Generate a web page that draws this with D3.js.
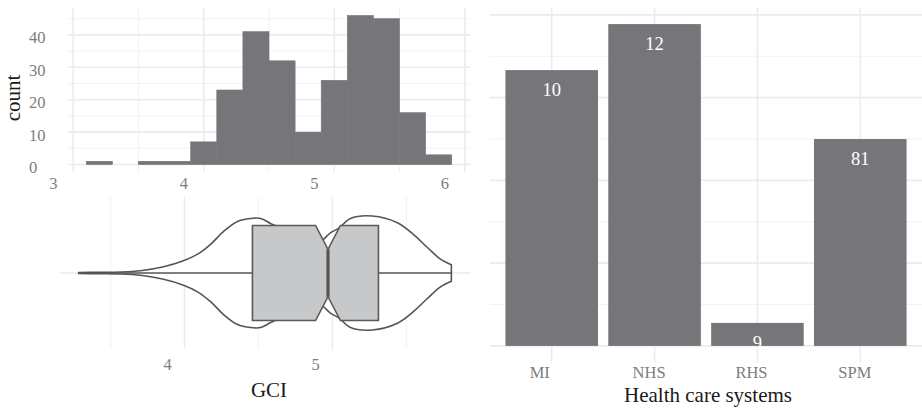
<!DOCTYPE html>
<html><head><meta charset="utf-8">
<script src="https://cdn.jsdelivr.net/npm/d3@7"></script>
<style>
body{margin:0;background:#fff;}
svg{display:block;font-family:"Liberation Serif","Times New Roman",serif;}
</style></head>
<body><svg id="c" width="922" height="408"></svg>
<script>
// ---- data ----
const histBinStart = [3.1,3.3,3.5,3.7,3.9,4.1,4.3,4.5,4.7,4.9,5.1,5.3,5.5,5.7];
const histCounts   = [1,0,1,1,7,23,41,32,10,26,46,45,16,3];
const histBinWidth = 0.2;
const histXTicks = [3,4,5,6];
const histYTicks = [0,10,20,30,40];

const violinX       = [3.284,3.432,3.568,3.703,3.858,3.993,4.088,4.176,4.264,4.358,4.446,4.514,4.581,4.649,4.750,4.851,4.905,4.939,4.986,5.041,5.122,5.270,5.439,5.547,5.642,5.730,5.804];
const violinDensity = [0.009,0.012,0.017,0.040,0.110,0.214,0.330,0.504,0.730,0.904,0.957,0.957,0.870,0.783,0.626,0.539,0.539,0.591,0.704,0.783,0.957,1.000,0.882,0.678,0.447,0.243,0.144];
const boxStats = {whiskerLow:3.284, q1:4.459, median:4.97, q3:5.311, whiskerHigh:5.804, notchLow:4.886, notchHigh:5.054};
const violinXTicks = [4,5];

const categories = ["MI","NHS","RHS","SPM"];
const percents   = [33.33,38.89,2.78,25.0];
const barLabels  = ["10","12","9","81"];
const barYTicks  = [0,10,20,30,40];

// ---- style ----
const barFill = "#76767a";
const gridMajor = "#ebebeb", gridMinor = "#f2f2f2";
const tickColor = "#7d7d7d", titleColor = "#1a1a1a";
const tickSize = 16.5, titleSize = 21;
const svg = d3.select("#c");

function vGrid(g, scale, vals, y0, y1, major){
  g.selectAll(null).data(vals).enter().append("line")
    .attr("x1", d=>scale(d)).attr("x2", d=>scale(d)).attr("y1", y0).attr("y2", y1)
    .attr("stroke", major?gridMajor:gridMinor).attr("stroke-width", major?1.6:1);
}
function hGrid(g, scale, vals, x0, x1, major){
  g.selectAll(null).data(vals).enter().append("line")
    .attr("y1", d=>scale(d)).attr("y2", d=>scale(d)).attr("x1", x0).attr("x2", x1)
    .attr("stroke", major?gridMajor:gridMinor).attr("stroke-width", major?1.6:1);
}

// ---- Histogram ----
{
  const L=68,R=470,T=8,B=172;
  const xmin = d3.min(histBinStart), xmax = d3.max(histBinStart)+histBinWidth;
  const xpad=(xmax-xmin)*0.05;
  const x = d3.scaleLinear().domain([xmin-xpad, xmax+xpad]).range([L,R]);
  const ymax = d3.max(histCounts);
  const y = d3.scaleLinear().domain([-ymax*0.05, ymax*1.05]).range([B,T]);
  const g = svg.append("g");
  hGrid(g, y, [5,15,25,35,45], L, R, false);
  vGrid(g, x, [3.5,4.5,5.5], T, B, false);
  hGrid(g, y, histYTicks, L, R, true);
  vGrid(g, x, histXTicks, T, B, true);
  g.selectAll("rect").data(histCounts).enter().append("rect")
    .attr("x",(d,i)=>x(histBinStart[i])).attr("width",(d,i)=>x(histBinStart[i]+histBinWidth)-x(histBinStart[i]))
    .attr("y",d=>y(d)).attr("height",d=>y(0)-y(d)).attr("fill",barFill)
    .attr("stroke",d=>d>0?barFill:"none").attr("stroke-width",0.6);
  g.selectAll(null).data(histXTicks).enter().append("text")
    .attr("x",d=>x(d)-24).attr("y",189).attr("font-size",tickSize).attr("fill",tickColor).text(d=>d);
  g.selectAll(null).data(histYTicks).enter().append("text")
    .attr("x",29).attr("y",d=>y(d)+8.5).attr("font-size",tickSize).attr("fill",tickColor).text(d=>d);
  g.append("text").attr("transform","translate(20,98) rotate(-90)").attr("text-anchor","middle")
    .attr("font-size",titleSize).attr("fill",titleColor).text("count");
}

// ---- Violin + boxplot ----
{
  const L=60,R=470,T=197,B=349;
  const vmin=d3.min(violinX), vmax=d3.max(violinX), pad=(vmax-vmin)*0.05;
  const x = d3.scaleLinear().domain([vmin-pad, vmax+pad]).range([L,R]);
  const y = d3.scaleLinear().domain([0.4,1.6]).range([B,T]);
  const g = svg.append("g");
  vGrid(g, x, [3.5,4.5,5.5], T, B, false);
  vGrid(g, x, violinXTicks, T, B, true);
  hGrid(g, y, [1], L, R, true);
  const pts = violinX.map((v,i)=>[v,violinDensity[i]]);
  const upper = pts.map(d=>[x(d[0]), y(1+0.45*d[1])]);
  const lower = pts.map(d=>[x(d[0]), y(1-0.45*d[1])]).reverse();
  const line = d3.line().curve(d3.curveCatmullRom.alpha(0.5));
  g.append("path").attr("d", line(upper)+"L"+line(lower).slice(1)+"Z")
    .attr("fill","#fff").attr("stroke","#555").attr("stroke-width",1.6).attr("stroke-linejoin","round");
  g.append("line").attr("x1",x(boxStats.whiskerLow)).attr("x2",x(boxStats.q1)).attr("y1",y(1)).attr("y2",y(1))
    .attr("stroke","#555").attr("stroke-width",1.6);
  g.append("line").attr("x1",x(boxStats.q3)).attr("x2",x(boxStats.whiskerHigh)).attr("y1",y(1)).attr("y2",y(1))
    .attr("stroke","#555").attr("stroke-width",1.6);
  const bw=0.375, nw=bw*0.5;
  const s=boxStats;
  const poly=[[s.q1,1+bw],[s.notchLow,1+bw],[s.median,1+nw],[s.notchHigh,1+bw],[s.q3,1+bw],
              [s.q3,1-bw],[s.notchHigh,1-bw],[s.median,1-nw],[s.notchLow,1-bw],[s.q1,1-bw]];
  g.append("path").attr("d", "M"+poly.map(p=>x(p[0])+","+y(p[1])).join("L")+"Z")
    .attr("fill","#c7c8ca").attr("stroke","#5a5a5a").attr("stroke-width",1.6).attr("stroke-linejoin","miter");
  g.append("line").attr("x1",x(s.median)).attr("x2",x(s.median)).attr("y1",y(1+nw)).attr("y2",y(1-nw))
    .attr("stroke","#555").attr("stroke-width",3.2);
  g.selectAll(null).data(violinXTicks).enter().append("text")
    .attr("x",d=>x(d)-21).attr("y",370).attr("font-size",tickSize).attr("fill",tickColor).text(d=>d);
  g.append("text").attr("x",269).attr("y",397).attr("text-anchor","middle").attr("font-size",titleSize)
    .attr("fill",titleColor).text("GCI");
}

// ---- Bar chart ----
{
  const L=490,R=922,T=8,B=362;
  const x = d3.scaleBand().domain(categories).range([L,R]).paddingInner(0.1).paddingOuter(0.15);
  const ymax=d3.max(percents);
  const y = d3.scaleLinear().domain([-ymax*0.05, ymax*1.05]).range([B,T]);
  const g = svg.append("g");
  hGrid(g, y, [5,15,25,35], L, R, false);
  hGrid(g, y, barYTicks, L, R, true);
  g.selectAll(null).data(categories).enter().append("line")
    .attr("x1",d=>x(d)+x.bandwidth()/2).attr("x2",d=>x(d)+x.bandwidth()/2).attr("y1",T).attr("y2",B)
    .attr("stroke",gridMajor).attr("stroke-width",1.6);
  g.selectAll("rect").data(percents).enter().append("rect")
    .attr("x",(d,i)=>x(categories[i])).attr("width",x.bandwidth())
    .attr("y",d=>y(d)).attr("height",d=>y(0)-y(d)).attr("fill",barFill);
  g.selectAll(null).data(percents).enter().append("text")
    .attr("x",(d,i)=>x(categories[i])+x.bandwidth()/2).attr("y",d=>y(d)+26)
    .attr("text-anchor","middle").attr("font-size",18.5).attr("fill","#fff").text((d,i)=>barLabels[i]);
  g.selectAll(null).data(categories).enter().append("text")
    .attr("x",d=>x(d)+x.bandwidth()/2-22).attr("y",378).attr("font-size",tickSize).attr("fill",tickColor).text(d=>d);
  g.append("text").attr("x",708).attr("y",402).attr("text-anchor","middle").attr("font-size",titleSize)
    .attr("fill",titleColor).text("Health care systems");
}
</script></body></html>
